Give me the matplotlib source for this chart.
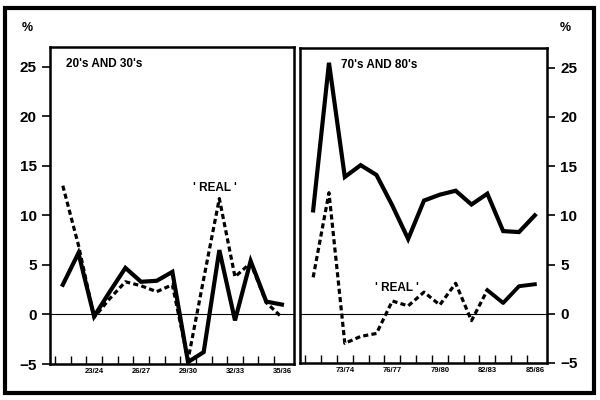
import numpy as np
import matplotlib
matplotlib.use('Agg')
import matplotlib.pyplot as plt
from matplotlib.patches import Rectangle

plt.rcParams['font.family'] = ['Liberation Sans', 'DejaVu Sans']
plt.rcParams['font.weight'] = 'bold'

# 20's and 30's: 1921/22 .. 1935/36
years_20s = ['21/22', '22/23', '23/24', '24/25', '25/26', '26/27', '27/28', '28/29',
             '29/30', '30/31', '31/32', '32/33', '33/34', '34/35', '35/36']
nominal_20s = [3.0, 6.2, -0.2, 2.3, 4.7, 3.3, 3.4, 4.3, -4.8, -3.8, 6.5, -0.6, 5.4, 1.3, 1.0]
real_20s = [13.0, 7.0, -0.3, 1.6, 3.3, 2.9, 2.3, 3.0, -4.6, 3.6, 11.7, 3.8, 5.2, 1.2, -0.3]

# 70's and 80's: 1971/72 .. 1985/86
years_70s = ['71/72', '72/73', '73/74', '74/75', '75/76', '76/77', '77/78', '78/79',
             '79/80', '80/81', '81/82', '82/83', '83/84', '84/85', '85/86']
nominal_70s = [10.5, 25.5, 13.9, 15.1, 14.1, 11.0, 7.6, 11.5, 12.1, 12.5, 11.1, 12.2, 8.4, 8.3, 10.0]
real_70s = [3.7, 12.3, -3.0, -2.3, -2.0, 1.3, 0.8, 2.2, 0.9, 3.1, -0.7, 2.4, 1.1, 2.8, 3.0]

fig = plt.figure(figsize=(6, 4), dpi=100)
ax1 = fig.add_axes([0.083, 0.09, 0.407, 0.7925])
ax2 = fig.add_axes([0.5, 0.0925, 0.4117, 0.7875])

def draw_panel(ax, years, nominal, real, title, title_x, solid_from=None):
    x = np.arange(len(years))
    ax.axhline(0, color='black', lw=0.8)
    ax.plot(x, nominal, color='black', lw=3.0, solid_joinstyle='miter')
    if solid_from is None:
        ax.plot(x, real, color='black', lw=2.3, dashes=(1.6, 1.0))
    else:
        ax.plot(x[:solid_from + 1], real[:solid_from + 1], color='black', lw=2.3, dashes=(1.6, 1.0))
        ax.plot(x[solid_from:], real[solid_from:], color='black', lw=2.8)
    ax.set_xlim(-0.83, len(years) - 1 + 0.77)
    ax.set_ylim(-5, 27)
    ax.set_yticks([-5, 0, 5, 10, 15, 20, 25])
    ax.set_xticks(x[2::3])
    ax.set_xticklabels([years[i] for i in range(2, len(years), 3)], fontsize=5.5)
    ax.set_xticks(np.arange(len(years)) - 0.5, minor=True)
    ax.tick_params(axis='x', which='major', length=0, pad=3)
    ax.tick_params(axis='x', which='minor', direction='in', length=6, width=1)
    ax.tick_params(axis='y', direction='out', length=6, width=1.2, labelsize=11)
    for s in ax.spines.values():
        s.set_linewidth(1.8)
    ax.text(title_x, 0.965, title, transform=ax.transAxes, fontsize=8.5,
            fontweight='bold', va='top', ha='left')

draw_panel(ax1, years_20s, nominal_20s, real_20s, "20's AND 30's", 0.066)
draw_panel(ax2, years_70s, nominal_70s, real_70s, "70's AND 80's", 0.165, solid_from=11)
ax2.yaxis.tick_right()

ax1.text(9.7, 12.8, "' REAL '", fontsize=8.5, fontweight='bold', ha='center', va='center')
ax2.text(5.3, 2.6, "' REAL '", fontsize=8.5, fontweight='bold', ha='center', va='center')

fig.text(0.045, 0.93, '%', fontsize=9, fontweight='bold', ha='center', va='center')
fig.text(0.942, 0.93, '%', fontsize=9, fontweight='bold', ha='center', va='center')

fig.patches.append(Rectangle((0.008, 0.018), 0.982, 0.962, transform=fig.transFigure,
                             fill=False, edgecolor='black', lw=3))

fig.savefig('out.png', dpi=100)
